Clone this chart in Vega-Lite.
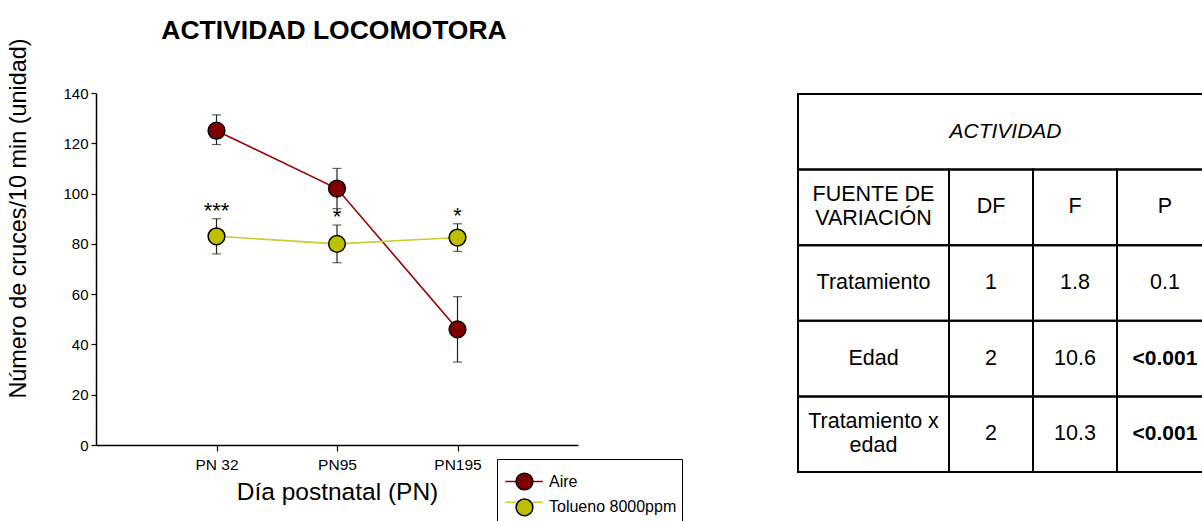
{
  "$schema": "https://vega.github.io/schema/vega-lite/v6.json",
  "autosize": {"type": "pad"},
  "padding": {"left": 6, "top": 18, "right": 0, "bottom": 0},
  "bounds": "flush",
  "spacing": 219,
  "config": {
    "font": "Liberation Sans",
    "view": {"stroke": null},
    "axis": {"grid": false, "domainColor": "black", "tickColor": "black", "labelColor": "black", "titleColor": "black", "titleFontWeight": "normal", "domainWidth": 1.5, "tickWidth": 1.2}
  },
  "datasets": {
    "medias": [
      {"dia": "PN 32", "grupo": "Aire", "media": 125, "inf": 119.5, "sup": 131.3, "sig": ""},
      {"dia": "PN95", "grupo": "Aire", "media": 102, "inf": 94, "sup": 110, "sig": ""},
      {"dia": "PN195", "grupo": "Aire", "media": 46, "inf": 33, "sup": 59, "sig": ""},
      {"dia": "PN 32", "grupo": "Tolueno 8000ppm", "media": 83, "inf": 76, "sup": 90, "sig": "***"},
      {"dia": "PN95", "grupo": "Tolueno 8000ppm", "media": 80, "inf": 72.5, "sup": 87.5, "sig": "*"},
      {"dia": "PN195", "grupo": "Tolueno 8000ppm", "media": 82.5, "inf": 77, "sup": 88, "sig": "*"}
    ],
    "tabla": [
      {"fila": 0, "col": 0, "col_fin": 4, "texto": "ACTIVIDAD", "tipo": "encabezado"},
      {"fila": 1, "col": 0, "col_fin": 1, "texto": "FUENTE DE\nVARIACIÓN", "tipo": "celda"},
      {"fila": 1, "col": 1, "col_fin": 2, "texto": "DF", "tipo": "celda"},
      {"fila": 1, "col": 2, "col_fin": 3, "texto": "F", "tipo": "celda"},
      {"fila": 1, "col": 3, "col_fin": 4, "texto": "P", "tipo": "celda"},
      {"fila": 2, "col": 0, "col_fin": 1, "texto": "Tratamiento", "tipo": "celda"},
      {"fila": 2, "col": 1, "col_fin": 2, "texto": "1", "tipo": "celda"},
      {"fila": 2, "col": 2, "col_fin": 3, "texto": "1.8", "tipo": "celda"},
      {"fila": 2, "col": 3, "col_fin": 4, "texto": "0.1", "tipo": "celda"},
      {"fila": 3, "col": 0, "col_fin": 1, "texto": "Edad", "tipo": "celda"},
      {"fila": 3, "col": 1, "col_fin": 2, "texto": "2", "tipo": "celda"},
      {"fila": 3, "col": 2, "col_fin": 3, "texto": "10.6", "tipo": "celda"},
      {"fila": 3, "col": 3, "col_fin": 4, "texto": "<0.001", "tipo": "significativo"},
      {"fila": 4, "col": 0, "col_fin": 1, "texto": "Tratamiento x\nedad", "tipo": "celda"},
      {"fila": 4, "col": 1, "col_fin": 2, "texto": "2", "tipo": "celda"},
      {"fila": 4, "col": 2, "col_fin": 3, "texto": "10.3", "tipo": "celda"},
      {"fila": 4, "col": 3, "col_fin": 4, "texto": "<0.001", "tipo": "significativo"}
    ]
  },
  "hconcat": [
    {
      "width": 482,
      "height": 352,
      "title": {"text": "ACTIVIDAD LOCOMOTORA", "fontSize": 26.5, "fontWeight": "bold", "anchor": "middle", "offset": -7, "dx": -3, "color": "black"},
      "data": {"name": "medias"},
      "encoding": {
        "x": {
          "field": "dia", "type": "ordinal",
          "scale": {"type": "point", "padding": 1, "domain": ["PN 32", "PN95", "PN195"]},
          "axis": {"title": "Día postnatal (PN)", "labelAngle": 0, "labelFontSize": 15.5, "tickSize": 6, "labelPadding": 6, "titleFontSize": 24.5, "titlePadding": 8}
        }
      },
      "layer": [
        {
          "mark": {"type": "errorbar", "color": "#222", "thickness": 1.2, "ticks": {"size": 9}},
          "encoding": {
            "y": {"field": "inf", "type": "quantitative", "title": "Número de cruces/10 min (unidad)",
              "scale": {"domain": [0, 140], "nice": false},
              "axis": {"values": [0, 20, 40, 60, 80, 100, 120, 140], "labelFontSize": 15, "tickSize": 5, "labelPadding": 3, "titleFontSize": 23.4, "titlePadding": 32, "titleY": 125}},
            "y2": {"field": "sup"},
            "detail": {"field": "grupo"}
          }
        },
        {
          "mark": {"type": "line", "strokeWidth": 1.6},
          "encoding": {
            "y": {"field": "media", "type": "quantitative", "title": "Número de cruces/10 min (unidad)"},
            "stroke": {
              "field": "grupo", "type": "nominal",
              "scale": {"domain": ["Aire", "Tolueno 8000ppm"], "range": ["#990000", "#CCCC33"]},
              "legend": {"orient": "none", "legendX": 401, "legendY": 366, "title": " ", "titleFontSize": 8, "titlePadding": 0, "padding": 5,
                "symbolType": "M-2.3,0H-1M1,0H2.2", "symbolSize": 280, "symbolStrokeWidth": 1.6, "symbolFillColor": "transparent",
                "symbolOffset": 13, "labelFontSize": 16, "labelOffset": 15, "labelExpr": "''", "rowPadding": 2.8}
            }
          }
        },
        {
          "mark": {"type": "point", "filled": true, "size": 280, "stroke": "black", "strokeWidth": 1.5, "opacity": 1},
          "encoding": {
            "y": {"field": "media", "type": "quantitative", "title": "Número de cruces/10 min (unidad)"},
            "fill": {
              "field": "grupo", "type": "nominal",
              "scale": {"range": ["#800000", "#BFBF00"]},
              "legend": {"orient": "none", "legendX": 401, "legendY": 366, "title": " ", "titleFontSize": 8, "titlePadding": 0, "padding": 5,
                "symbolType": "circle", "symbolSize": 280, "symbolStrokeColor": "black", "symbolStrokeWidth": 1.5, "symbolOpacity": 1,
                "symbolOffset": 13, "labelFontSize": 16, "labelOffset": 15, "labelColor": "black", "rowPadding": 2.8, "strokeColor": "black"}
            }
          }
        },
        {
          "transform": [{"filter": "datum.sig != ''"}],
          "mark": {"type": "text", "fontSize": 22, "baseline": "alphabetic", "dy": -1, "color": "black"},
          "encoding": {
            "y": {"field": "sup", "type": "quantitative", "title": "Número de cruces/10 min (unidad)"},
            "text": {"field": "sig"}
          }
        }
      ]
    },
    {
      "width": 407,
      "height": 380,
      "data": {"name": "tabla"},
      "layer": [
        {
          "mark": {"type": "rect", "fill": "transparent", "stroke": "black", "strokeWidth": 2, "clip": true},
          "encoding": {
            "x": {"field": "col", "type": "quantitative", "scale": {"domain": [0, 1, 2, 3, 4], "range": [1, 152, 236, 320, 416]}, "axis": null},
            "x2": {"field": "col_fin"},
            "y": {"field": "fila", "type": "ordinal", "scale": {"range": [1, 379], "paddingInner": 0, "paddingOuter": 0}, "axis": null}
          }
        },
        {
          "transform": [{"filter": "datum.tipo == 'celda' && indexof(datum.texto, '\\n') < 0"}],
          "mark": {"type": "text", "fontSize": 21.5, "color": "black"},
          "encoding": {
            "x": {"field": "col", "type": "quantitative", "scale": {"domain": [0, 1, 2, 3], "range": [76.5, 194, 278, 368]}, "axis": null},
            "y": {"field": "fila", "type": "ordinal", "axis": null},
            "text": {"field": "texto"}
          }
        },
        {
          "transform": [{"filter": "datum.tipo == 'celda' && indexof(datum.texto, '\\n') >= 0"}],
          "mark": {"type": "text", "fontSize": 21.5, "lineBreak": "\n", "lineHeight": 24, "dy": -12, "color": "black"},
          "encoding": {
            "x": {"field": "col", "type": "quantitative", "scale": {"domain": [0, 1, 2, 3], "range": [76.5, 194, 278, 368]}, "axis": null},
            "y": {"field": "fila", "type": "ordinal", "axis": null},
            "text": {"field": "texto"}
          }
        },
        {
          "transform": [{"filter": "datum.tipo == 'significativo'"}],
          "mark": {"type": "text", "fontSize": 21, "fontWeight": "bold", "color": "black"},
          "encoding": {
            "x": {"field": "col", "type": "quantitative", "scale": {"domain": [0, 1, 2, 3], "range": [76.5, 194, 278, 368]}, "axis": null},
            "y": {"field": "fila", "type": "ordinal", "axis": null},
            "text": {"field": "texto"}
          }
        },
        {
          "transform": [{"filter": "datum.tipo == 'encabezado'"}],
          "mark": {"type": "text", "fontSize": 21, "fontStyle": "italic", "color": "black"},
          "encoding": {
            "x": {"datum": 2, "type": "quantitative", "scale": {"domain": [0, 4], "range": [1, 416]}, "axis": null},
            "y": {"field": "fila", "type": "ordinal", "axis": null},
            "text": {"field": "texto"}
          }
        }
      ],
      "resolve": {"scale": {"x": "independent"}}
    }
  ]
}
